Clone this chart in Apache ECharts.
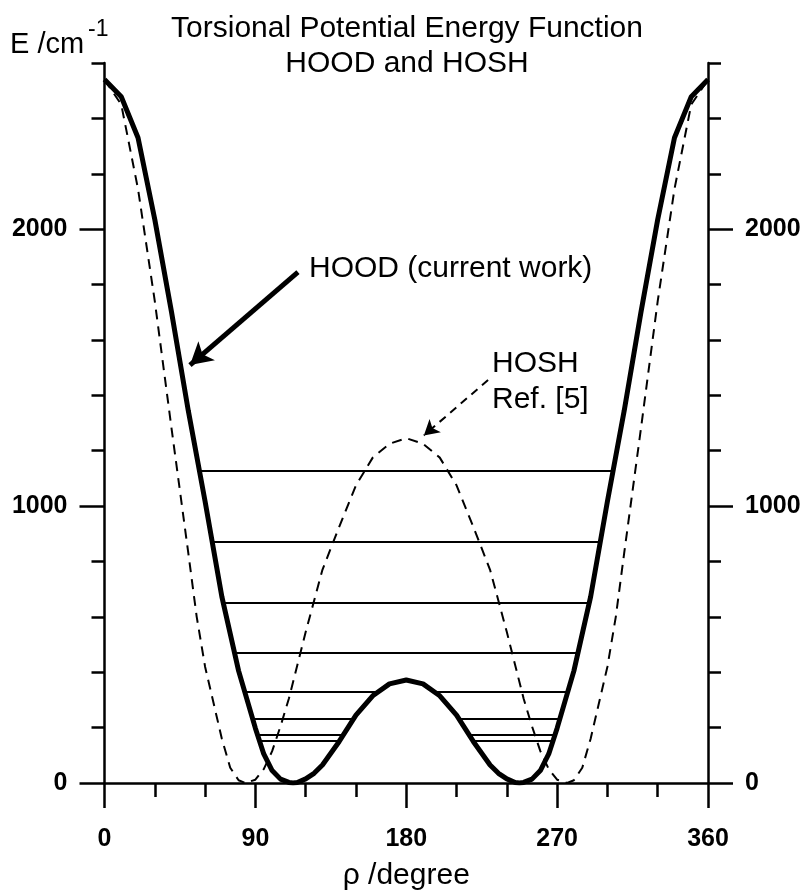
<!DOCTYPE html>
<html><head><meta charset="utf-8">
<script src="https://cdn.jsdelivr.net/npm/echarts@6/dist/echarts.min.js"></script>
<style>html,body{margin:0;padding:0;background:#fff}#c{width:807px;height:890px}</style>
</head><body><div id="c"></div>
<script>
// ---- data ----
const hoodAngles = [0,10,20,30,40,50,60,70,80,90,95,100,105,110,112.5,115,120,125,130,140,150,160,170,180,190,200,210,220,230,235,240,245,247.5,250,255,260,265,270,280,290,300,310,320,330,340,350,360];
const hoodEnergy = [2540,2478,2330,2035,1700,1344,1017,673,405,198,105,45,14,2,0,2,15,35,65,150,245,315,358,372,358,315,245,150,65,35,15,2,0,2,14,45,105,198,405,673,1017,1344,1700,2035,2330,2478,2540];
const hoshAngles = [0,10,20,30,40,50,55,60,70,75,80,84,90,95,100,105,110,120,130,140,150,160,170,180,190,200,210,220,230,240,250,255,260,265,270,276,280,285,290,300,305,310,320,330,340,350,360];
const hoshEnergy = [2540,2450,2145,1740,1280,830,600,420,160,55,10,0,12,50,115,205,305,545,770,925,1075,1175,1225,1245,1225,1175,1075,925,770,545,305,205,115,50,12,0,10,55,160,420,600,830,1280,1740,2145,2450,2540];
const levelEnergies = [1127, 870, 650, 469, 329, 231, 173, 152];
const xTickValues = [0, 90, 180, 270, 360];
const yTickLabels = [0, 1000, 2000];
const hoodArrow = [[115.4, 1845], [51.0, 1509]];
const hoshArrow = [[228.8, 1455], [190.5, 1255]];

// ---- build ----
const FONT = '"Liberation Sans", Arial, Helvetica, sans-serif';
function pairs(xs, ys) { return xs.map((x, i) => [x, ys[i]]); }
function crossings(level) {
  const out = [];
  for (let i = 0; i < hoodAngles.length - 1; i++) {
    const a = hoodEnergy[i] - level, b = hoodEnergy[i + 1] - level;
    if (a * b < 0) {
      const t = a / (a - b);
      out.push(hoodAngles[i] + t * (hoodAngles[i + 1] - hoodAngles[i]));
    }
  }
  return out;
}
const levelSeries = [];
levelEnergies.forEach(L => {
  const c = crossings(L);
  for (let k = 0; k + 1 < c.length; k += 2) {
    levelSeries.push({
      type: 'line', data: [[c[k], L], [c[k + 1], L]], showSymbol: false, silent: true,
      lineStyle: { color: '#000', width: 2 }, z: 2, animation: false
    });
  }
});

const axisCommon = { lineStyle: { color: '#000', width: 2.5 } };
const yLab = { fontSize: 25, fontWeight: 'bold', color: '#000', fontFamily: FONT, margin: 37,
  formatter: v => (yTickLabels.indexOf(v) >= 0 ? String(v) : '') };
function yAxisPair(pos) {
  return [
    { type: 'value', position: pos, min: 0, max: 2600, interval: 200,
      axisLine: { show: true, ...axisCommon }, axisTick: { show: true, length: 13, ...axisCommon },
      axisLabel: yLab, splitLine: { show: false } },
    { type: 'value', position: pos, min: 0, max: 2600, interval: 200,
      axisLine: { show: false }, axisTick: { show: true, length: 25, customValues: yTickLabels, ...axisCommon },
      axisLabel: { show: false }, splitLine: { show: false } }
  ];
}

const chart = echarts.init(document.getElementById('c'), null, { renderer: 'canvas' });
chart.setOption({
  animation: false,
  backgroundColor: '#fff',
  grid: { left: 104.5, right: 99, top: 63, bottom: 107, containLabel: false, outerBoundsMode: 'none' },
  xAxis: {
    type: 'value', min: 0, max: 360, interval: 90,
    axisLine: { show: true, onZero: false, ...axisCommon },
    axisTick: { show: true, length: 25, ...axisCommon },
    minorTick: { show: true, splitNumber: 3, length: 14, ...axisCommon },
    splitLine: { show: false }, minorSplitLine: { show: false },
    axisLabel: { fontSize: 25, fontWeight: 'bold', color: '#000', fontFamily: FONT, margin: 44,
      customValues: xTickValues },
    name: 'ρ /degree', nameLocation: 'middle', nameGap: 78,
    nameTextStyle: { fontSize: 30, color: '#000', fontFamily: FONT }
  },
  yAxis: [...yAxisPair('left'), ...yAxisPair('right')],
  series: [
    { type: 'line', name: 'HOSH', data: pairs(hoshAngles, hoshEnergy), showSymbol: false, silent: true,
      lineStyle: { color: '#000', width: 2, type: [10, 7] }, z: 3 },
    ...levelSeries,
    { type: 'line', name: 'HOOD', data: pairs(hoodAngles, hoodEnergy), showSymbol: false, silent: true,
      lineStyle: { color: '#000', width: 5 }, z: 4 },
    { type: 'line', data: [], silent: true, z: 5,
      markLine: { silent: true, animation: false, label: { show: false },
        data: [
          [{ coord: hoodArrow[0], symbol: 'none', lineStyle: { color: '#000', width: 5, type: 'solid' } },
           { coord: hoodArrow[1], symbol: 'arrow', symbolSize: [19, 22] }],
          [{ coord: hoshArrow[0], symbol: 'none', lineStyle: { color: '#000', width: 2, type: [8, 6] } },
           { coord: hoshArrow[1], symbol: 'arrow', symbolSize: [13, 15] }]
        ] } }
  ],
  graphic: [
    { type: 'text', x: 407, y: 11, style: { text: 'Torsional Potential Energy Function\nHOOD and HOSH',
      fontSize: 30, fontFamily: FONT, fill: '#000', align: 'center', verticalAlign: 'top', lineHeight: 35 } },
    { type: 'text', x: 10, y: 30, style: { text: 'E /cm', fontSize: 29, fontFamily: FONT, fill: '#000', verticalAlign: 'top' } },
    { type: 'text', x: 88, y: 18, style: { text: '-1', fontSize: 23, fontFamily: FONT, fill: '#000', verticalAlign: 'top' } },
    { type: 'text', x: 309, y: 254, style: { text: 'HOOD (current work)', fontSize: 30, fontFamily: FONT, fill: '#000', verticalAlign: 'top' } },
    { type: 'text', x: 492, y: 346, style: { text: 'HOSH\nRef. [5]', fontSize: 30, fontFamily: FONT, fill: '#000', verticalAlign: 'top', lineHeight: 36 } }
  ]
});
</script></body></html>
